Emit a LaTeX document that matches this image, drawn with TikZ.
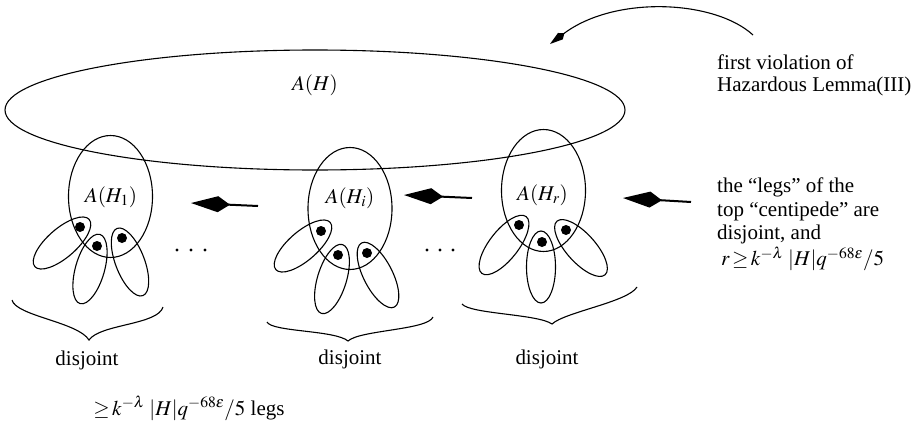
\documentclass[tikz,border=0pt]{standalone}
\usepackage{mathptmx}
\usepackage[no-math]{fontspec}
\setmainfont{Liberation Serif}
\usetikzlibrary{arrows.meta,shapes.geometric}

\begin{document}
\begin{tikzpicture}[
    x=1pt, y=-1pt,
    font=\fontsize{21}{22}\selectfont,
    hull/.style={draw, ellipse, line width=1.1pt, inner sep=0pt},
    body/.style={hull, minimum width=84pt, minimum height=122pt},
    leg/.style={hull, minimum width=72pt, minimum height=29pt},
    foot/.style={circle, fill, inner sep=0pt, minimum size=10pt},
    point/.style={circle, fill, inner sep=0pt, minimum size=3.2pt},
    pusher/.style={line width=2pt, -{Kite[length=39pt, width=16pt, inset=12pt]}},
    brace/.style={line width=1.1pt},
    setname/.style={anchor=base, inner sep=0pt},
    note/.style={align=left, anchor=north west, inner sep=0pt}
]
\useasboundingbox (0,0) rectangle (919,423);

% Top set
\node[hull, minimum width=620pt, minimum height=120pt] (AH) at (315,110) {};
\node[setname] (AHname) at (315,90) {$A(H)$};

% =====================================================
% CENTIPEDES
% =====================================================

% First
\node[body] (B1) at (110.5,196.5) {};
\node[setname] (B1name) at (111,202) {$A(H_1)$};
\node[leg, rotate=41] (leg11) at (62,243) {};
\node[leg, rotate=74] (leg12) at (90,269) {};
\node[leg, rotate=111] (leg13) at (130,262) {};
\node[foot] (foot11) at (80,227) {};
\node[foot] (foot12) at (97,246) {};
\node[foot] (foot13) at (122,238) {};

% i-th
\node[body] (B2) at (350,208.5) {};
\node[setname] (B2name) at (350,203) {$A(H_i)$};
\node[leg, rotate=41] (leg21) at (303,246) {};
\node[leg, rotate=73] (leg22) at (332,279) {};
\node[leg, rotate=117] (leg23) at (378,275) {};
\node[foot] (foot21) at (321,231) {};
\node[foot] (foot22) at (338,255) {};
\node[foot] (foot23) at (367,253) {};

% r-th
\node[body] (B3) at (543.5,190.5) {};
\node[setname] (B3name) at (542.5,200) {$A(H_r)$};
\node[leg, rotate=52] (leg31) at (504,245) {};
\node[leg, rotate=90] (leg32) at (541,267) {};
\node[leg, rotate=132] (leg33) at (581,248) {};
\node[foot] (foot31) at (519,225) {};
\node[foot] (foot32) at (542,242) {};
\node[foot] (foot33) at (566,230) {};

% Dots in between
\foreach \x [count=\i] in {177,191,205}
    \node[point] (gapA\i) at (\x,250) {};
\foreach \x [count=\i] in {427,440,453}
    \node[point] (gapB\i) at (\x,250) {};

% =====================================================
% ARROWS
% =====================================================

\coordinate (push1tail) at (258,206);
\coordinate (push1tip) at (191,203);
\coordinate (push2tail) at (472,198);
\coordinate (push2tip) at (404,195);
\coordinate (push3tail) at (691,202);
\coordinate (push3tip) at (623,198);
\draw[pusher] (push1tail) -- (push1tip);
\draw[pusher] (push2tail) -- (push2tip);
\draw[pusher] (push3tail) -- (push3tip);

\coordinate (violstart) at (753,35);
\coordinate (violend) at (550,44);
\draw[line width=1.1pt, -{Kite[length=18pt, width=8pt, inset=5pt]}]
    (violstart) .. controls (715,0) and (615,-5) .. (violend);

% =====================================================
% BRACES AND NOTES
% =====================================================

\draw[brace] (12,300) .. controls (16,316) and (78,322) .. (89,340)
    .. controls (100,324) and (158,325) .. (163,307);
\draw[brace] (267,322) .. controls (272,332) and (335,330) .. (348,341)
    .. controls (360,330) and (428,330) .. (433,317);
\draw[brace] (462,304) .. controls (470,314) and (538,314) .. (552,324)
    .. controls (565,312) and (628,302) .. (637,287);

\node[setname] (disjoint1) at (87,365) {disjoint};
\node[setname] (disjoint2) at (350,364) {disjoint};
\node[setname] (disjoint3) at (547,364) {disjoint};
\node[setname] (legcount) at (189,415)
    {${\geq}\,k^{-\lambda}\;|H|q^{-68\varepsilon}/5$ legs};

\node[note] (violation) at (717,54.6) {first violation of\\Hazardous Lemma(III)};
\node[note, font=\fontsize{21}{23.5}\selectfont] (legsnote) at (717,177.6)
    {the “legs” of the\\top “centipede” are\\disjoint, and\\[1.5pt]
     \hspace*{4pt}$r\,{\geq}\,k^{-\lambda}\;|H|q^{-68\varepsilon}/5$};

\end{tikzpicture}
\end{document}
